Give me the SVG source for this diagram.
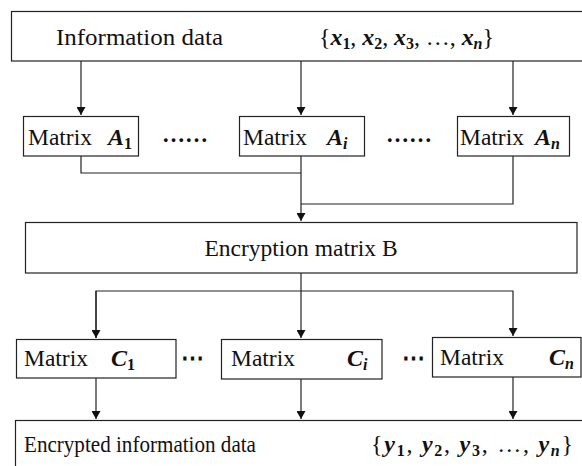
<svg xmlns="http://www.w3.org/2000/svg" width="582" height="466" viewBox="0 0 582 466">
<style>
.box{fill:#fff;stroke:#222;stroke-width:1.2}
.t{font-family:"Liberation Serif","Times New Roman",serif;font-size:23.5px;fill:#111}
.m{font-family:"Liberation Serif","Times New Roman",serif;font-size:24px;font-weight:bold;font-style:italic;fill:#111}
.s{font-size:16px;font-style:normal;font-weight:bold}
.si{font-size:16px;font-style:italic;font-weight:bold}
.b{font-style:normal;font-weight:normal}
.c{fill:none;stroke:#222;stroke-width:1.2}
.d{font-family:"Liberation Serif",serif;font-size:23px;font-weight:bold;fill:#111}
</style>
<defs>
<marker id="ah" markerWidth="8" markerHeight="9" refX="8" refY="4.5" orient="auto" markerUnits="userSpaceOnUse">
<path d="M0,0 L8,4.5 L0,9 Z" fill="#111"/>
</marker>
</defs>
<g id="connectors">
<path class="c" d="M81,61 V115" marker-end="url(#ah)"/>
<path class="c" d="M301,61 V115" marker-end="url(#ah)"/>
<path class="c" d="M513,61 V115" marker-end="url(#ah)"/>
<path class="c" d="M81,156 V173 H301"/>
<path class="c" d="M513,156 V204 H301"/>
<path class="c" d="M301,156 V221" marker-end="url(#ah)"/>
<path class="c" d="M301,273 V338" marker-end="url(#ah)"/>
<path class="c" d="M96,338 V291 H513 V336" marker-end="url(#ah)"/>
<path class="c" d="M96,291 V338" marker-end="url(#ah)"/>
<path class="c" d="M96,378 V419" marker-end="url(#ah)"/>
<path class="c" d="M301,379 V419" marker-end="url(#ah)"/>
<path class="c" d="M513,377 V419" marker-end="url(#ah)"/>
</g>
<g id="info">
<rect class="box" x="11.5" y="11.5" width="575" height="49.5"/>
<text class="t" x="56" y="45" textLength="167" lengthAdjust="spacingAndGlyphs">Information data</text>
<text class="m" x="319" y="45" textLength="175" lengthAdjust="spacing"><tspan class="b">{</tspan>x<tspan class="s" dy="4">1</tspan><tspan class="b" dy="-4">, </tspan>x<tspan class="s" dy="4">2</tspan><tspan class="b" dy="-4">, </tspan>x<tspan class="s" dy="4">3</tspan><tspan class="b" dy="-4">, …, </tspan>x<tspan class="si" dy="4">n</tspan><tspan class="b" dy="-4">}</tspan></text>
</g>
<g id="A1">
<rect class="box" x="23.5" y="116.5" width="115" height="39.5"/>
<text class="t" x="28" y="145">Matrix</text>
<text class="m" x="108" y="145">A<tspan class="s" dy="4">1</tspan></text>
</g>
<text class="d" x="162" y="142">……</text>
<g id="Ai">
<rect class="box" x="239.5" y="116.5" width="125" height="39.5"/>
<text class="t" x="243" y="145">Matrix</text>
<text class="m" x="327" y="145">A<tspan class="si" dy="4">i</tspan></text>
</g>
<text class="d" x="386" y="142">……</text>
<g id="An">
<rect class="box" x="457.5" y="116.5" width="112" height="39.5"/>
<text class="t" x="460" y="145">Matrix</text>
<text class="m" x="535" y="145">A<tspan class="si" dy="4">n</tspan></text>
</g>
<g id="B">
<rect class="box" x="25.5" y="222.5" width="551.5" height="50.5"/>
<text class="t" x="301" y="256" text-anchor="middle">Encryption matrix B</text>
</g>
<g id="C1">
<rect class="box" x="16.5" y="339.5" width="159.5" height="38.5"/>
<text class="t" x="24" y="366">Matrix</text>
<text class="m" x="111" y="366">C<tspan class="s" dy="4">1</tspan></text>
</g>
<text class="d" x="181" y="365">⋯</text>
<g id="Ci">
<rect class="box" x="221.5" y="339.5" width="160.5" height="39.5"/>
<text class="t" x="231" y="366">Matrix</text>
<text class="m" x="347" y="366">C<tspan class="si" dy="4">i</tspan></text>
</g>
<text class="d" x="402" y="365">⋯</text>
<g id="Cn">
<rect class="box" x="432.5" y="337.5" width="148.5" height="39.5"/>
<text class="t" x="440" y="365">Matrix</text>
<text class="m" x="549" y="365">C<tspan class="si" dy="4">n</tspan></text>
</g>
<g id="enc">
<rect class="box" x="15.5" y="420.5" width="572" height="60"/>
<text class="t" x="24" y="452" textLength="232" lengthAdjust="spacingAndGlyphs">Encrypted information data</text>
<text class="m" x="371" y="452" textLength="202" lengthAdjust="spacing"><tspan class="b">{</tspan>y<tspan class="s" dy="4">1</tspan><tspan class="b" dy="-4">, </tspan>y<tspan class="s" dy="4">2</tspan><tspan class="b" dy="-4">, </tspan>y<tspan class="s" dy="4">3</tspan><tspan class="b" dy="-4">, …, </tspan>y<tspan class="si" dy="4">n</tspan><tspan class="b" dy="-4">}</tspan></text>
</g>
</svg>
